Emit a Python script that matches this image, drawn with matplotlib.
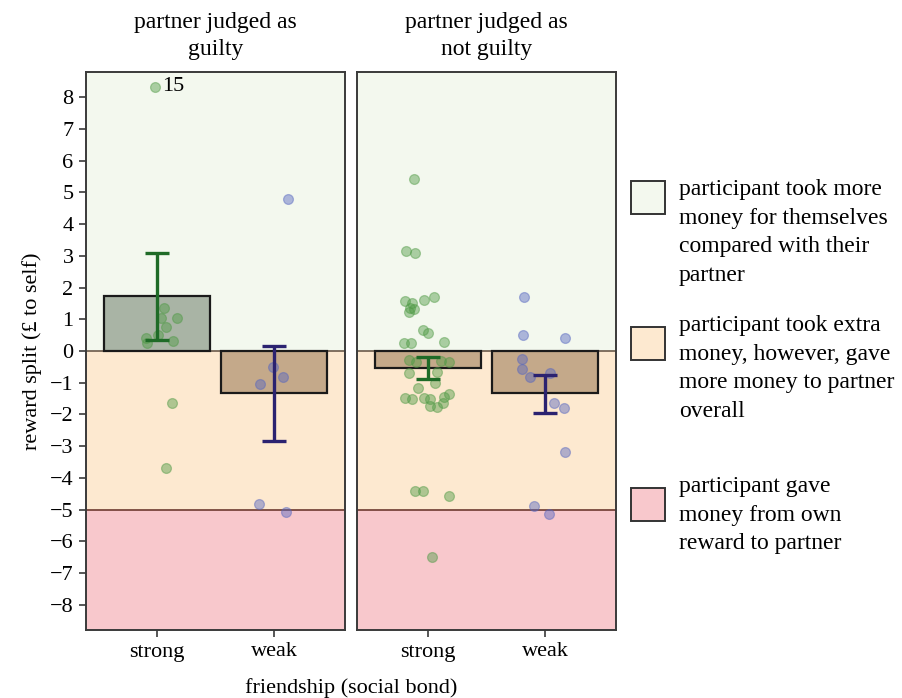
import numpy as np
import matplotlib
matplotlib.use("Agg")
import matplotlib.pyplot as plt
from matplotlib.patches import Rectangle

plt.rcParams["font.family"] = ["Liberation Serif", "DejaVu Serif"]
plt.rcParams["font.size"] = 16

# --- data ---
panels = ["partner judged as\nguilty", "partner judged as\nnot guilty"]
bond = ["strong", "weak"]

bar_means = [[1.73, -1.33], [-0.54, -1.33]]
bar_err = [[1.37, 1.5], [0.35, 0.6]]
err_mid = [[1.73, -1.35], [-0.53, -1.35]]

# jitter offsets (x) and values (y) of each participant point
g_strong_x = [-0.01, 0.06, 0.04, 0.17, 0.08, 0.01, -0.09, -0.08, 0.14, 0.13, 0.08]
g_strong_y = [8.34, 1.35, 1.04, 1.04, 0.77, 0.5, 0.41, 0.25, 0.31, -1.64, -3.7]
g_weak_x = [0.12, -0.01, 0.07, -0.12, -0.13, 0.10]
g_weak_y = [4.78, -0.5, -0.81, -1.04, -4.84, -5.09]
n_strong_x = [-0.12, -0.18, -0.11, -0.19, -0.13, -0.03, 0.05, -0.15, -0.12, -0.16,
              -0.04, 0.0, -0.20, -0.14, 0.14, -0.16, -0.10, 0.11, 0.18, -0.16,
              0.08, 0.06, -0.08, -0.19, -0.13, -0.03, 0.02, 0.18, 0.14, 0.13,
              0.02, 0.08, -0.11, -0.04, 0.18, 0.04]
n_strong_y = [5.41, 3.14, 3.08, 1.57, 1.5, 1.62, 1.71, 1.37, 1.31, 1.24,
              0.66, 0.58, 0.26, 0.26, 0.28, -0.28, -0.35, -0.31, -0.35, -0.69,
              -0.66, -1.0, -1.16, -1.48, -1.51, -1.48, -1.51, -1.35, -1.44, -1.64,
              -1.73, -1.76, -4.4, -4.4, -4.56, -6.51]
n_weak_x = [-0.18, -0.19, 0.17, -0.20, -0.20, -0.13, 0.04, 0.07, 0.16, 0.17, -0.10, 0.03]
n_weak_y = [1.7, 0.5, 0.41, -0.25, -0.57, -0.81, -0.69, -1.64, -1.79, -3.18, -4.9, -5.13]

points = [[(g_strong_x, g_strong_y), (g_weak_x, g_weak_y)],
          [(n_strong_x, n_strong_y), (n_weak_x, n_weak_y)]]

zones = [(0, 8.8), (-5, 0), (-8.8, -5)]
zone_labels = ["participant took more\nmoney for themselves\ncompared with their\npartner",
               "participant took extra\nmoney, however, gave\nmore money to partner\noverall",
               "participant gave\nmoney from own\nreward to partner"]
zone_colors = ["#f3f8ee", "#fde9d0", "#f8c8cc"]

pt_colors = ["#4f9a45", "#5565c0"]
err_colors = ["#1f6b27", "#2b2270"]

fig = plt.figure(figsize=(9.02, 6.98), dpi=100)
ax_l = fig.add_axes([86/902, 1-630/698, 259/902, 558/698])
ax_r = fig.add_axes([357/902, 1-630/698, 259/902, 558/698])

for p, ax in enumerate([ax_l, ax_r]):
    for (lo, hi), c in zip(zones, zone_colors):
        ax.axhspan(lo, hi, color=c, zorder=0, lw=0)
    ax.axhline(0, color="#6b5a4a", lw=1.2, zorder=1)
    ax.axhline(-5, color="#6e3a30", lw=1.2, zorder=1)
    xs = np.arange(len(bond))
    for i in xs:
        m = bar_means[p][i]
        fc = "#a9b4a5" if m > 0 else "#c4a98a"
        ax.bar(i, m, width=0.9, color=fc, edgecolor="#1a1a1a", lw=1.6, zorder=2)
        px, py = points[p][i]
        ax.scatter(i + np.array(px), py, s=50, color=pt_colors[i], alpha=0.45,
                   edgecolors=pt_colors[i], linewidths=0.9, zorder=3)
        ax.errorbar(i, err_mid[p][i], yerr=bar_err[p][i], color=err_colors[i],
                    lw=2.4, capsize=8.5, capthick=2.4, zorder=4)
    ax.set_xlim(-0.6, 1.6)
    ax.set_ylim(-8.8, 8.8)
    ax.set_xticks(xs)
    ax.set_xticklabels(bond)
    ax.set_yticks(range(-8, 9))
    ax.set_title(panels[p], fontsize=17, pad=12, linespacing=1.42)
    for s in ax.spines.values():
        s.set_color("#3a3a3a")
        s.set_linewidth(1.4)
    ax.tick_params(length=5, width=1.2, color="#3a3a3a", pad=4)

ax_r.tick_params(axis="y", left=False, labelleft=False)
ax_l.set_ylabel("reward split (£ to self)", fontsize=16, labelpad=6)
ax_l.annotate("15", (g_strong_x[0], g_strong_y[0]), xytext=(5, 0),
              textcoords="offset points", va="center", ha="left", fontsize=16)
fig.text(351/902, 1-688/698, "friendship (social bond)", ha="center", va="center", fontsize=16)

# legend for the shaded zones, placed by hand
box_top = [181, 327, 488]
text_top = [179, 315, 476]
for k in range(3):
    fig.add_artist(Rectangle((631/902, 1-(box_top[k]+33)/698), 34/902, 33/698,
                             transform=fig.transFigure, facecolor=zone_colors[k],
                             edgecolor="#333333", lw=1.4))
    fig.text(679/902, 1-text_top[k]/698, zone_labels[k], ha="left", va="top",
             fontsize=17, linespacing=1.47)

fig.savefig("out.png", dpi=100)
